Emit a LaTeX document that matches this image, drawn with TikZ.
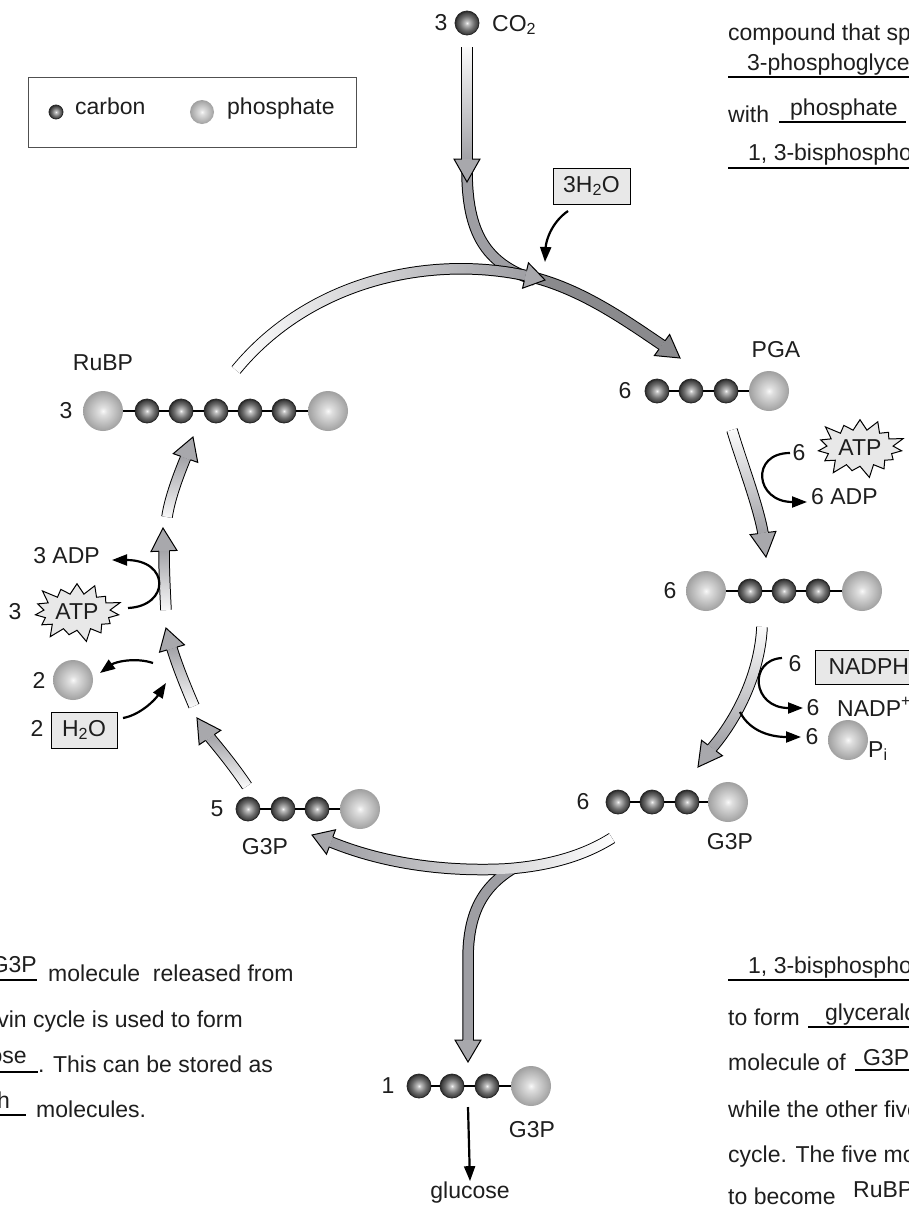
\documentclass[tikz,border=0pt]{standalone}
\usepackage{fontspec}
\setmainfont{Liberation Sans}
\usetikzlibrary{calc,arrows.meta,shapes.symbols,fadings}
\definecolor{bandgray}{RGB}{158,158,163}
\definecolor{darkband}{RGB}{138,138,141}
\definecolor{headgray}{RGB}{168,168,172}
\definecolor{boxgray}{RGB}{232,232,232}
\definecolor{ink}{RGB}{30,30,30}
\definecolor{legendline}{RGB}{80,80,80}
\pgfdeclareradialshading{cball}{\pgfpoint{0bp}{0bp}}{color(0bp)=(white!92!gray); color(4bp)=(gray!50); color(15bp)=(black!58); color(22bp)=(black!74); color(25bp)=(black!85); color(50bp)=(black!85)}
\pgfdeclareradialshading{pball}{\pgfpoint{0bp}{0bp}}{color(0bp)=(white!95!gray); color(5bp)=(gray!25); color(20bp)=(gray!62); color(25bp)=(gray!75); color(50bp)=(gray!75)}
\newcommand\bandout[1]{\draw[line width=11.5pt, black] #1;}
\newcommand\bandin[2]{\draw[line width=9.5pt, #2] #1;}
\newcommand\bandfade[2]{\draw[line width=9.5pt, white, path fading=#2] #1;}
\newcommand\fullband[3]{\bandout{#1}\bandin{#1}{#2}\bandfade{#1}{#3}}
\newcommand\bandhead[3]{%
  \filldraw[fill=#3, draw=black, line width=1pt, line join=miter]
    ($(#1)!5.2pt!90:(#2)$) -- ($(#1)!13pt!90:(#2)$) -- (#2)
    -- ($(#1)!13pt!-90:(#2)$) -- ($(#1)!5.2pt!-90:(#2)$);}
\begin{document}
\begin{tikzpicture}[x=1pt,y=-1pt,
  every node/.style={font=\fontsize{23}{27}\selectfont, inner sep=0pt, text=ink},
  carbon/.style={circle, minimum size=24pt, draw=black!85, line width=0.8pt, shading=cball},
  phos/.style={circle, minimum size=40pt, shading=pball},
  bond/.style={line width=1.8pt, black},
  rxn/.style={line width=2.2pt, black, -{Triangle[length=15pt,width=11pt]}},
  uline/.style={line width=1.3pt, black},
  greybox/.style={draw=black, fill=boxgray, line width=1pt},
  atp/.style={starburst, starburst points=15, starburst point height=14pt, draw=black, fill=boxgray, line width=1pt, inner xsep=2pt, inner ysep=5pt}]

\useasboundingbox (0,0) rectangle (909,1205);
\fill[white] (0,0) rectangle (909,1205);
\clip (0,0) rectangle (909,1205);

% ---------- big band arrows ----------
\def\pathB{(467,170) .. controls (467,232) and (485,264) .. (535,280)}
\def\pathC{(528,276) .. controls (580,288) and (625,320) .. (662,345)}
\bandout{\pathB}\bandout{\pathC}
\bandin{\pathB}{bandgray}\bandin{\pathC}{darkband}
\bandhead{662,345}{680,358}{darkband}
\fullband{(467,47) -- (467,159)}{bandgray}{south}
\bandhead{467,159}{467,182}{headgray}
\fullband{(236,370) .. controls (310,280) and (430,255) .. (525.5,275.5)}{bandgray}{east}
\bandhead{525.5,275.5}{545,280}{headgray}
\fullband{(732,430) .. controls (742,463) and (758,505) .. (763,533)}{bandgray}{south}
\bandhead{763,533}{766,557}{headgray}
\fullband{(762,627) .. controls (760,670) and (740,715) .. (712,748)}{bandgray}{south}
\bandhead{712,748}{698,767}{headgray}
\def\pathL{(612,838) .. controls (585,855) and (550,866) .. (505,869) .. controls (440,872) and (380,862) .. (331,842)}
\def\pathD{(512,869) .. controls (478,890) and (468,920) .. (468,960) -- (468,1040)}
\bandout{\pathL}\bandout{\pathD}
\bandin{\pathD}{bandgray}
\bandin{\pathL}{bandgray}\bandfade{\pathL}{west}
\bandhead{331,842}{312,835}{headgray}
\bandhead{468,1040}{468,1062}{headgray}
\fullband{(247,786) .. controls (235,768) and (222,752) .. (210,737.5)}{bandgray}{north}
\bandhead{210,737.5}{197,718}{headgray}
\fullband{(194,706) .. controls (185,685) and (177,665) .. (172,648.5)}{bandgray}{north}
\bandhead{172,648.5}{166,628}{headgray}
\fullband{(166,610) .. controls (165,590) and (164,570) .. (164,551)}{bandgray}{north}
\bandhead{164,551}{163,528}{headgray}
\fullband{(167,517) .. controls (170,497) and (179,474) .. (185.5,458)}{bandgray}{north}
\bandhead{185.5,458}{193,437}{headgray}

% ---------- legend ----------
\node[draw=legendline, line width=1pt, minimum width=328pt, minimum height=70pt] (legend) at (192,112) {};
\node[carbon, minimum size=14pt] (legC) at (56,112) {};
\node[anchor=mid west] (legCt) at (75,112) {carbon};
\node[phos, minimum size=24pt] (legP) at (202,112) {};
\node[anchor=mid west] (legPt) at (227,112) {phosphate};

% ---------- CO2 ----------
\node (co2n) at (441,23) {3};
\node[carbon] (co2c) at (467,23) {};
\node[anchor=base west] (co2t) at (492,31) {CO\textsubscript{2}};

% ---------- 3H2O ----------
\node[greybox, minimum width=77pt, minimum height=36pt] (h2o3) at (591.5,186) {3H\textsubscript{2}O};
\draw[rxn] (568,211) .. controls (552,222) and (546,240) .. (545,262);

% ---------- RuBP ----------
\node (rubpL) at (103,363) {RuBP};
\node (rubpN) at (66,411) {3};
\node[phos] (r0) at (103,411) {};
\node[carbon] (r1) at (147,411) {};
\node[carbon] (r2) at (181,411) {};
\node[carbon] (r3) at (216,411) {};
\node[carbon] (r4) at (250,411) {};
\node[carbon] (r5) at (284,411) {};
\node[phos] (r6) at (328,411) {};
\draw[bond] (r0) -- (r1); \draw[bond] (r1) -- (r2); \draw[bond] (r2) -- (r3);
\draw[bond] (r3) -- (r4); \draw[bond] (r4) -- (r5); \draw[bond] (r5) -- (r6);

% ---------- PGA ----------
\node (pgaL) at (776,350) {PGA};
\node (pgaN) at (625,391) {6};
\node[carbon] (p1) at (657,391) {};
\node[carbon] (p2) at (691,391) {};
\node[carbon] (p3) at (726,391) {};
\node[phos] (p4) at (769,391) {};
\draw[bond] (p1) -- (p2); \draw[bond] (p2) -- (p3); \draw[bond] (p3) -- (p4);

% ATP right
\node (atpRn) at (799,453) {6};
\node[atp] (atpR) at (860,448) {ATP};
\node[anchor=mid west] (adpR) at (811,502) {6 ADP};
\draw[rxn] (790,453) .. controls (750,453) and (755,502) .. (807,502);

% ---------- BPG ----------
\node (bpgN) at (670,591) {6};
\node[phos] (b0) at (706,591) {};
\node[carbon] (b1) at (750,591) {};
\node[carbon] (b2) at (784,591) {};
\node[carbon] (b3) at (818,591) {};
\node[phos] (b4) at (862,591) {};
\draw[bond] (b0) -- (b1); \draw[bond] (b1) -- (b2); \draw[bond] (b2) -- (b3); \draw[bond] (b3) -- (b4);

% NADPH
\node (nadphN) at (795,664) {6};
\node[greybox, anchor=west, minimum height=34pt, inner xsep=13pt] (nadph) at (815,667) {NADPH};
\node (nadpN) at (813,708) {6};
\node[anchor=base west] (nadp) at (837,716) {NADP\textsuperscript{+}};
\draw[rxn] (782,658) .. controls (748,660) and (752,708) .. (803,708);
\node (piN) at (812,737) {6};
\node[phos] (piB) at (848,740) {};
\node[anchor=base west] (piT) at (868,757) {P\textsubscript{i}};
\draw[rxn] (740,712) .. controls (750,732) and (772,737) .. (801,737);

% ---------- G3P (6) ----------
\node (g6N) at (583,802) {6};
\node[carbon] (g61) at (618,802) {};
\node[carbon] (g62) at (652,802) {};
\node[carbon] (g63) at (687,802) {};
\node[phos] (g64) at (728,802) {};
\draw[bond] (g61) -- (g62); \draw[bond] (g62) -- (g63); \draw[bond] (g63) -- (g64);
\node (g6L) at (730,842) {G3P};

% ---------- G3P (5) ----------
\node (g5N) at (217,809) {5};
\node[carbon] (g51) at (248,809) {};
\node[carbon] (g52) at (283,809) {};
\node[carbon] (g53) at (317,809) {};
\node[phos] (g54) at (360,809) {};
\draw[bond] (g51) -- (g52); \draw[bond] (g52) -- (g53); \draw[bond] (g53) -- (g54);
\node (g5L) at (265,847) {G3P};

% ---------- G3P (1) ----------
\node (g1N) at (388,1086) {1};
\node[carbon] (g11) at (419,1086) {};
\node[carbon] (g12) at (452,1086) {};
\node[carbon] (g13) at (487,1086) {};
\node[phos] (g14) at (531,1086) {};
\draw[bond] (g11) -- (g12); \draw[bond] (g12) -- (g13); \draw[bond] (g13) -- (g14);
\node (g1L) at (532,1130) {G3P};
\node[anchor=base] (gluc) at (470,1198) {glucose};
\coordinate (glA) at (468,1107);
\draw[rxn] (glA) -- (gluc.north);

% ---------- left side inputs ----------
\node[anchor=mid east] (adpL) at (100,561) {3 ADP};
\node (atpLn) at (15,612) {3};
\node[atp] (atpL) at (77,612) {ATP};
\draw[rxn] (128,608) .. controls (170,606) and (170,560) .. (112,560);
\node (piLn) at (39,680) {2};
\node[phos] (piL) at (73,680) {};
\draw[rxn] (153,663) .. controls (135,657) and (115,662) .. (100,673);
\node (h2oN) at (37,728) {2};
\node[greybox, minimum width=66pt, minimum height=36pt] (h2o2) at (84,730) {H\textsubscript{2}O};
\draw[rxn] (123,718) .. controls (140,715) and (155,700) .. (166,683);

% ---------- worksheet text, top right ----------
\node[anchor=base west] (t1) at (728,40) {compound that splits};
\node[anchor=base west] (t2) at (747,70) {3-phosphoglycerate};
\draw[uline] (728,77) -- (909,77);
\node[anchor=base west] (t3) at (728,122) {with};
\node[anchor=base west] (t3b) at (790,115) {phosphate};
\draw[uline] (779,122) -- (906,122);
\node[anchor=base west] (t4) at (748,160) {1, 3-bisphosphoglycerate};
\draw[uline] (728,168) -- (909,168);

% ---------- worksheet text, bottom right ----------
\node[anchor=base west] (u1) at (748,973) {1, 3-bisphosphoglycerate};
\draw[uline] (728,980) -- (909,980);
\node[anchor=base west] (u2) at (728,1025) {to form};
\node[anchor=base west] (u2b) at (825,1020) {glyceraldehyde};
\draw[uline] (808,1027) -- (909,1027);
\node[anchor=base west] (u3) at (728,1070) {molecule of};
\node[anchor=base west] (u3b) at (863,1065) {G3P};
\draw[uline] (855,1070) -- (909,1070);
\node[anchor=base west] (u4) at (728,1117) {while the other five};
\node[anchor=base west] (u5) at (728,1162) {cycle. The five molecules};
\node[anchor=base west] (u6) at (728,1204) {to become};
\node[anchor=base west] (u6b) at (853,1197) {RuBP};

% ---------- worksheet text, bottom left ----------
\node[anchor=base east] (v1a) at (37,972) {G3P};
\draw[uline] (-10,980) -- (37,980);
\node[anchor=base west] (v1) at (48,981) {molecule\ \ released from};
\node[anchor=base east] (v2) at (243,1027) {Calvin cycle is used to form};
\node[anchor=base east] (v3a) at (27,1063) {glucose};
\draw[uline] (-10,1072) -- (38,1072);
\node[anchor=base west] (v3) at (38,1072) {. This can be stored as};
\node[anchor=base east] (v4a) at (10,1108) {starch};
\draw[uline] (-10,1115) -- (26,1115);
\node[anchor=base west] (v4) at (36,1117) {molecules.};
\end{tikzpicture}
\end{document}
